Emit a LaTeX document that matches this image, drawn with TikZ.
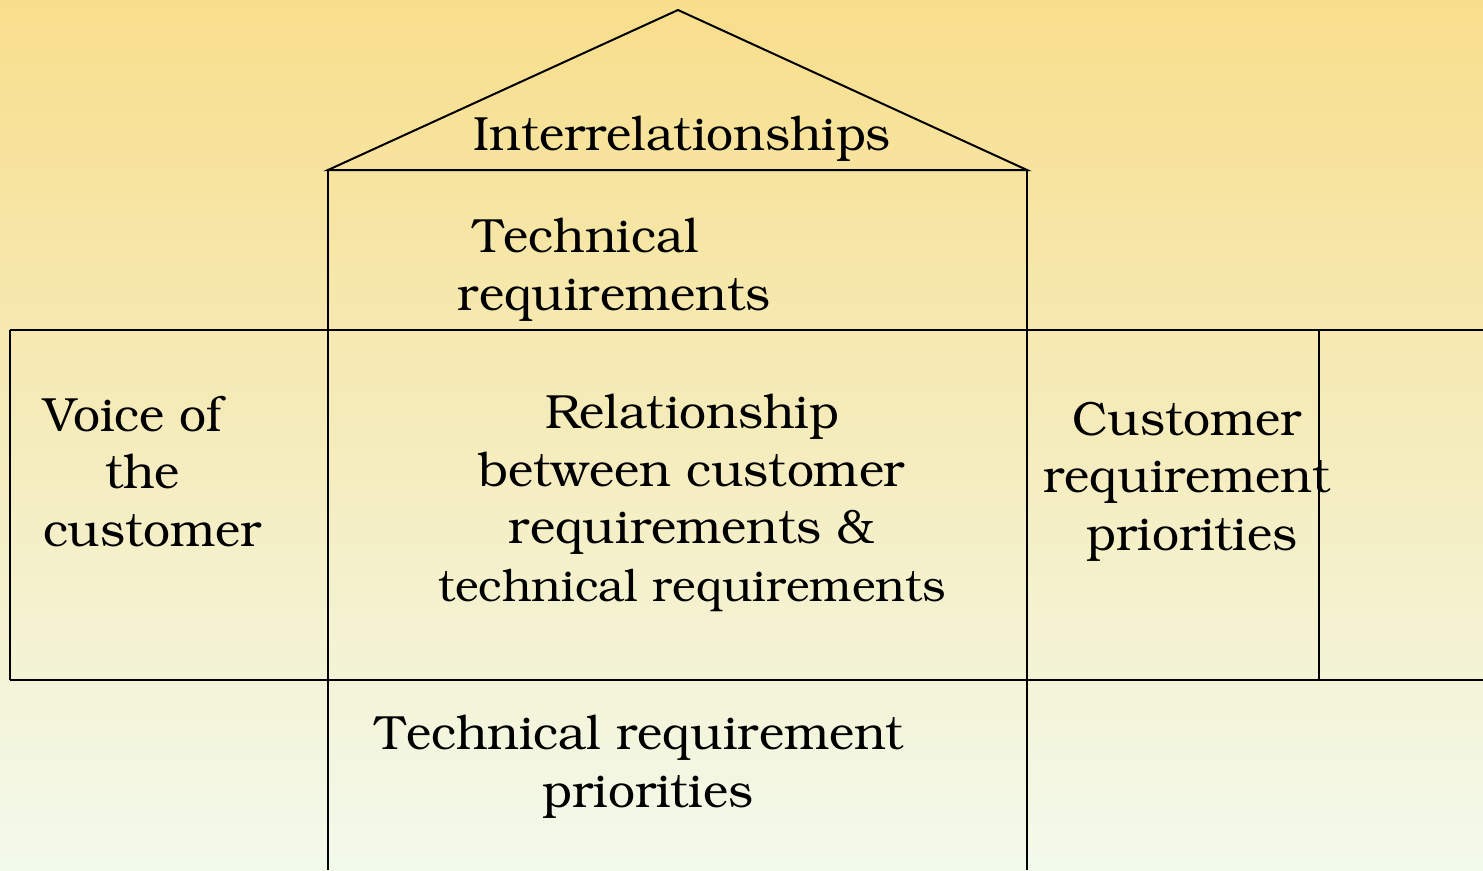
\documentclass[tikz,border=0pt]{standalone}
\usepackage[T1]{fontenc}
\usepackage{bookman}
\definecolor{roofyellow}{RGB}{248,222,140}
\definecolor{wallcream}{RGB}{241,241,200}
\definecolor{floorgreen}{RGB}{242,250,236}

\begin{document}
\begin{tikzpicture}[x=1pt,y=-1pt,line width=2pt,
    boxtext/.style={align=center,inner sep=0pt,anchor=base,
      font=\fontsize{48}{57.5}\selectfont}]
    %background
    \shade[top color=roofyellow, middle color=wallcream, bottom color=floorgreen]
      (0,0) rectangle (1483,870);
    \useasboundingbox (0,0) rectangle (1483,870);
    %roof
    \draw (328,170) -- (678,10) -- (1027,170) -- cycle;
    %walls
    \draw (328,170) -- (328,870);
    \draw (1027,170) -- (1027,870);
    %middle row
    \draw (10,330) -- (1483,330);
    \draw (10,680) -- (1483,680);
    \draw (10,330) -- (10,680);
    \draw (1319,330) -- (1319,680);
    %labels (anchored on the baseline of the last line)
    \node[boxtext] (interrel) at (682,150) {Interrelationships};
    \node[boxtext] (techreq) at (614,310) {Technical\hspace*{56pt}\\requirements};
    \node[boxtext,align=left,anchor=base west] (voice) at (42,546)
      {Voice of\\\hspace*{62pt}the\\customer};
    \node[boxtext] (relation) at (692,601) {Relationship\\between customer\\requirements \&\\
      {\fontsize{45}{55}\selectfont technical requirements}};
    \node[boxtext] (custprio) at (1187,550) {Customer\\requirement\\\hspace*{10pt}priorities};
    \node[boxtext] (techprio) at (640,807) {Technical requirement\\\hspace*{16pt}priorities};
\end{tikzpicture}
\end{document}
